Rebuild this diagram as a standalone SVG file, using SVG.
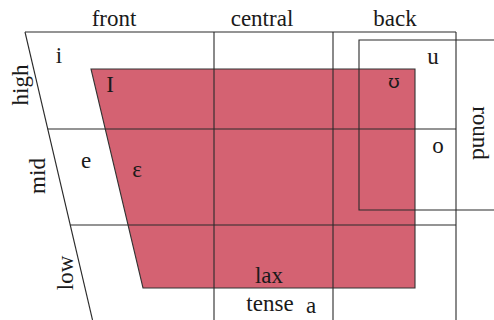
<svg xmlns="http://www.w3.org/2000/svg" width="494" height="320" viewBox="0 0 494 320">
<style>
.ln{stroke:#2a2a2a;stroke-width:1.1;fill:none}
.t{font-family:"Liberation Serif","DejaVu Serif",serif;font-size:23px;fill:#1a1a1a;text-anchor:middle}
.ipa{font-family:"DejaVu Serif",serif;font-size:19px}
</style>
<rect width="494" height="320" fill="#fff"/>
<g id="lax-region">
<polygon points="91,69 415,69 415,288 143,288" fill="#D46272" stroke="#333" stroke-width="1.1"/>
</g>
<g id="grid">
<line class="ln" x1="25" y1="32" x2="456" y2="32"/>
<line class="ln" x1="25" y1="32" x2="92.5" y2="320"/>
<line class="ln" x1="47.7" y1="129" x2="456" y2="129"/>
<line class="ln" x1="70.2" y1="225" x2="456" y2="225"/>
<line class="ln" x1="214" y1="32" x2="214" y2="320"/>
<line class="ln" x1="333" y1="32" x2="333" y2="320"/>
<line class="ln" x1="456" y1="32" x2="456" y2="320"/>
</g>
<g id="round-region">
<polyline class="ln" points="494,40 359,40 359,210 494,210"/>
</g>
<g id="labels">
<text class="t" x="114" y="26">front</text>
<text class="t" x="262" y="26">central</text>
<text class="t" x="395" y="26">back</text>
<text class="t" transform="translate(28,85) rotate(-90)">high</text>
<text class="t" transform="translate(45,176) rotate(-90)">mid</text>
<text class="t" transform="translate(73,273) rotate(-90)">low</text>
<text class="t" transform="translate(473,133) rotate(90)">round</text>
<text class="t" x="269" y="283">lax</text>
<text class="t" x="270" y="311">tense</text>
</g>
<g id="vowels">
<text class="t" x="59" y="63">i</text>
<text class="t" x="110" y="92">I</text>
<text class="t" x="86" y="168">e</text>
<text class="t" x="137" y="177">ε</text>
<text class="t ipa" x="394" y="88">ʊ</text>
<text class="t" x="433" y="64">u</text>
<text class="t" x="438" y="153">o</text>
<text class="t" x="311" y="313">a</text>
</g>
</svg>
